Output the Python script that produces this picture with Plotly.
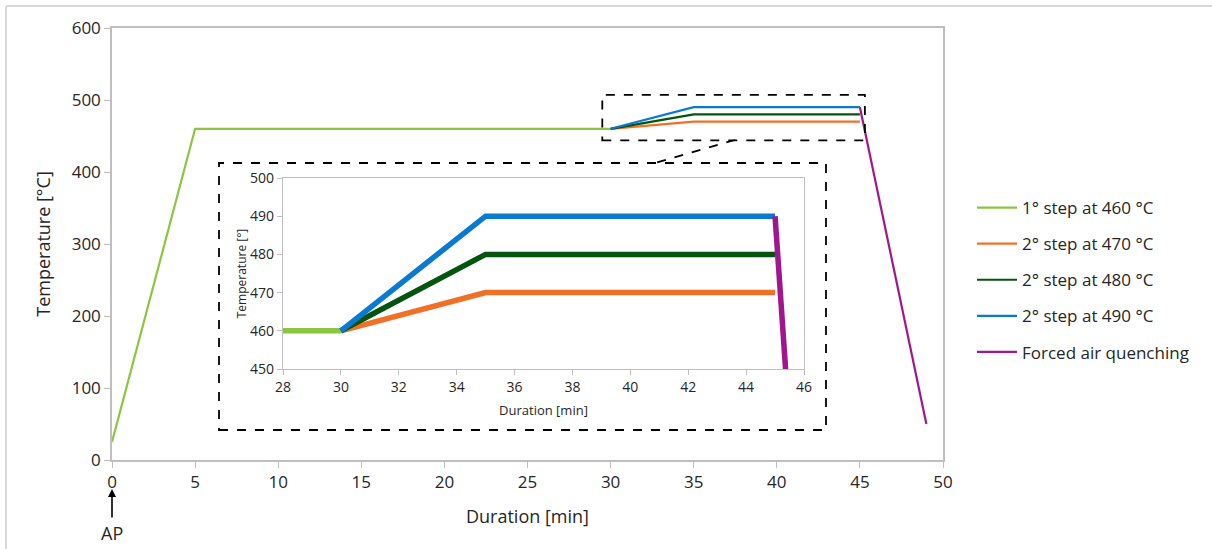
import plotly.graph_objects as go

# ---- data ----
step1_x = [0, 5, 30]
step1_y = [25, 460, 460]
s470_x = [30, 35, 45]
s470_y = [460, 470, 470]
s480_x = [30, 35, 45]
s480_y = [460, 480, 480]
s490_x = [30, 35, 45]
s490_y = [460, 490, 490]
quench_x = [45, 49]
quench_y = [490, 50]

names = ["1° step at 460 °C", "2° step at 470 °C", "2° step at 480 °C",
         "2° step at 490 °C", "Forced air quenching"]
colors = ["#8cc63e", "#f07028", "#02540f", "#0a7ad0", "#a0168e"]

main_xticks = [0, 5, 10, 15, 20, 25, 30, 35, 40, 45, 50]
main_yticks = [0, 100, 200, 300, 400, 500, 600]
inset_xticks = [28, 30, 32, 34, 36, 38, 40, 42, 44, 46]
inset_yticks = [450, 460, 470, 480, 490, 500]

W, H = 1212, 549
L, R, T, B = 112, 943, 28, 460


def px(x):
    return (x - L) / (R - L)


def py(y):
    return (B - y) / (B - T)


series = [(step1_x, step1_y), (s470_x, s470_y), (s480_x, s480_y),
          (s490_x, s490_y), (quench_x, quench_y)]

fig = go.Figure()
for i, ((xs, ys), n, c) in enumerate(zip(series, names, colors)):
    fig.add_trace(go.Scatter(x=xs, y=ys, mode="lines", name=n,
                             legendgroup=f"g{i}",
                             line=dict(color=c, width=2.2),
                             xaxis="x", yaxis="y"))
for i, ((xs, ys), n, c) in enumerate(zip(series, names, colors)):
    fig.add_trace(go.Scatter(x=xs, y=ys, mode="lines", name=n,
                             legendgroup=f"g{i}",
                             line=dict(color=c, width=5.5),
                             showlegend=False, xaxis="x2", yaxis="y2"))

font = "Open Sans, Noto Sans, sans-serif"
grey = "#bfbfbf"

fig.update_layout(
    width=W, height=H,
    margin=dict(l=L, r=W - R, t=T, b=H - B),
    paper_bgcolor="white", plot_bgcolor="white",
    font=dict(family=font, color="#262626", size=17),
    showlegend=True,
    legend=dict(x=px(972), y=py(190), xanchor="left", yanchor="top",
                font=dict(size=17, color="#262626"),
                tracegroupgap=11, itemwidth=40, bgcolor="rgba(0,0,0,0)"),
    xaxis=dict(range=[0, 50], tickvals=main_xticks, showgrid=False,
               zeroline=False, showline=True, linecolor=grey, linewidth=1.5,
               mirror=True, ticks="outside", tickcolor=grey, ticklen=6,
               tickfont=dict(size=17),
               title=dict(text="Duration [min]", font=dict(size=18), standoff=18)),
    yaxis=dict(range=[0, 600], tickvals=main_yticks, showgrid=False,
               zeroline=False, showline=True, linecolor=grey, linewidth=1.5,
               mirror=True, ticks="outside", tickcolor=grey, ticklen=6,
               tickfont=dict(size=17),
               title=dict(text="Temperature [°C]", font=dict(size=18), standoff=16)),
    xaxis2=dict(domain=[px(283), px(804)], anchor="y2", range=[28, 46],
                tickvals=inset_xticks, showgrid=False, zeroline=False,
                showline=True, linecolor=grey, linewidth=1.2, mirror=True,
                ticks="outside", tickcolor=grey, ticklen=5,
                tickfont=dict(size=14),
                title=dict(text="Duration [min]", font=dict(size=13), standoff=10)),
    yaxis2=dict(domain=[py(369), py(178)], anchor="x2", range=[450, 500],
                tickvals=inset_yticks, showgrid=False, zeroline=False,
                showline=True, linecolor=grey, linewidth=1.2, mirror=True,
                ticks="outside", tickcolor=grey, ticklen=5,
                tickfont=dict(size=14),
                title=dict(text="Temperature [°]", font=dict(size=12), standoff=0)),
)

dash = dict(color="black", width=1.8, dash="dash")
# zoom box on main plot
fig.add_shape(type="rect", xref="x", yref="y", x0=29.5, x1=45.3, y0=444, y1=507,
              line=dash, layer="above")
# inset box
fig.add_shape(type="rect", xref="paper", yref="paper",
              x0=px(219), x1=px(826), y0=py(430), y1=py(163), line=dash, layer="below")
# connector
fig.add_shape(type="line", xref="paper", yref="paper",
              x0=px(735), y0=py(140), x1=px(655), y1=py(163), line=dash)
# outer frame (top and left)
fig.add_shape(type="line", xref="paper", yref="paper",
              x0=px(6), y0=py(6), x1=px(1212), y1=py(6),
              line=dict(color="#d9d9d9", width=2))
fig.add_shape(type="line", xref="paper", yref="paper",
              x0=px(6), y0=py(6), x1=px(6), y1=py(549),
              line=dict(color="#d9d9d9", width=2))

# AP arrow (head points up at the axis origin, label below)
fig.add_annotation(xref="x", yref="paper", x=0, y=py(489), text="AP",
                   showarrow=True, ax=0, ay=44, axref="pixel", ayref="pixel",
                   arrowhead=2, arrowsize=1, arrowwidth=1.6, arrowcolor="black",
                   standoff=0, startstandoff=2,
                   font=dict(size=18, color="#262626"))

fig.write_html("out.html")
